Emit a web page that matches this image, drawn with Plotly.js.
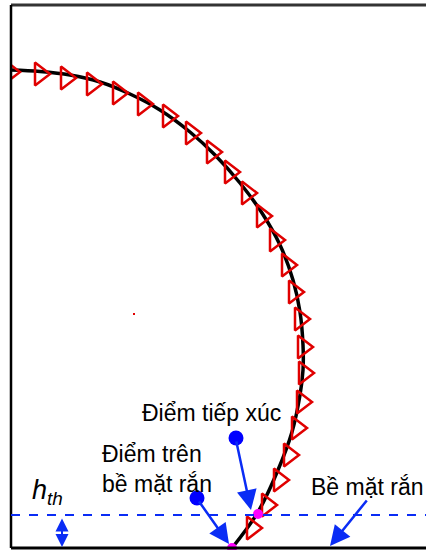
<!DOCTYPE html>
<html>
<head>
<meta charset="utf-8">
<script src="https://cdn.plot.ly/plotly-3.0.1.min.js"></script>
<style>html,body{margin:0;padding:0;background:#fff;overflow:hidden}#chart{width:426px;height:550px}</style>
</head>
<body>
<div id="chart"></div>
<script>
// Drop profile (fitted curve), in image-plane units (y grows downward)
const profileX = [11, 40, 70, 100, 130, 160, 190, 215, 240, 262, 280, 293, 300, 303, 303, 300, 292, 278, 258, 232];
const profileY = [70, 71.5, 75, 82, 94, 110, 132, 155, 183, 213, 245, 280, 312, 345, 370, 395, 432, 470, 512, 548];
// Detected edge points (triangles)
const edgeX = [10, 40, 66, 92, 118, 143, 168, 191, 212, 230, 247, 262, 275, 287, 294, 300, 303, 304, 302, 297, 289, 279, 267, 252];
const edgeY = [72, 74, 78, 84, 93, 104, 116, 133, 152, 172, 193, 216, 240, 265, 292, 319, 347, 373, 402, 428, 455, 480, 505, 528];
// Contact point and point on solid surface
const keyX = [258, 232];
const keyY = [514, 548];
// Threshold line level and surface level
const thresholdY = 515;
const surfaceY = 548;
const labels = {
  contact: "Điểm tiếp xúc",
  surfacePoint: "Điểm trên<br>bề mặt rắn",
  surface: "Bề mặt rắn",
  hth: "<i>h</i><sub><i>th</i></sub>"
};

const blue = "#0a2cf5";
const font = {family: "Liberation Sans, Arial, sans-serif", size: 23, color: "#000"};

const traces = [
  {x: profileX, y: profileY, mode: "lines", line: {color: "#000", width: 3.5, shape: "spline", smoothing: 1}, hoverinfo: "skip"},
  {x: edgeX, y: edgeY, mode: "markers", marker: {symbol: "triangle-right-open", size: 20, color: "#e00000", line: {width: 2.5, color: "#e00000"}}, cliponaxis: true},
  {x: keyX, y: keyY, mode: "markers", marker: {color: "#ff00ff", size: 10}, cliponaxis: false},
  {x: [236, 197], y: [438, 498], mode: "markers", marker: {color: "#0000ff", size: 15}},
  {x: [134], y: [314], mode: "markers", marker: {color: "#e00000", size: 2, symbol: "square"}}
];

const layout = {
  width: 426, height: 550,
  margin: {l: 0, r: 0, t: 0, b: 0},
  paper_bgcolor: "#fff", plot_bgcolor: "#fff",
  showlegend: false,
  xaxis: {range: [0, 426], visible: false, fixedrange: true},
  yaxis: {range: [550, 0], visible: false, fixedrange: true},
  shapes: [
    {type: "rect", x0: 0, x1: 10, y0: 0, y1: 550, fillcolor: "#fff", line: {width: 0}, layer: "above"},
    {type: "line", x0: 11, x1: 426, y0: 5, y1: 5, line: {color: "#333", width: 3}, layer: "above"},
    {type: "line", x0: 11, x1: 11, y0: 5, y1: surfaceY, line: {color: "#000", width: 2.5}, layer: "above"},
    {type: "line", x0: 11, x1: 426, y0: surfaceY, y1: surfaceY, line: {color: "#000", width: 3}},
    {type: "line", x0: 11, x1: 426, y0: thresholdY, y1: thresholdY, line: {color: blue, width: 2, dash: "dash"}}
  ],
  annotations: [
    {x: 211, y: 413, xref: "x", yref: "y", text: labels.contact, showarrow: false, font: font},
    {x: 100, y: 469, xref: "x", yref: "y", text: labels.surfacePoint, showarrow: false, font: font, align: "left", xanchor: "left"},
    {x: 367, y: 487, xref: "x", yref: "y", text: labels.surface, showarrow: false, font: font},
    {x: 47, y: 492, xref: "x", yref: "y", text: labels.hth, showarrow: false, font: {family: "Liberation Sans, Arial, sans-serif", size: 27, color: "#000"}},
    // arrows
    {x: 251, y: 510, ax: 236, ay: 440, axref: "x", ayref: "y", xref: "x", yref: "y", text: "", showarrow: true, arrowhead: 2, arrowsize: 1.6, arrowwidth: 2.5, arrowcolor: blue, standoff: 0},
    {x: 229, y: 544, ax: 198, ay: 500, axref: "x", ayref: "y", xref: "x", yref: "y", text: "", showarrow: true, arrowhead: 2, arrowsize: 1.6, arrowwidth: 2.5, arrowcolor: blue, standoff: 0},
    {x: 330, y: 546, ax: 368, ay: 499, axref: "x", ayref: "y", xref: "x", yref: "y", text: "", showarrow: true, arrowhead: 2, arrowsize: 1.6, arrowwidth: 2.5, arrowcolor: blue, standoff: 0},
    {x: 62, y: 547, ax: 62, ay: 517, axref: "x", ayref: "y", xref: "x", yref: "y", text: "", showarrow: true, arrowhead: 2, startarrowhead: 2, arrowside: "end+start", arrowsize: 1.3, startarrowsize: 1.3, arrowwidth: 2, arrowcolor: blue, standoff: 0, startstandoff: 0}
  ]
};

Plotly.newPlot("chart", traces, layout, {staticPlot: true, displayModeBar: false});
</script>
</body>
</html>
